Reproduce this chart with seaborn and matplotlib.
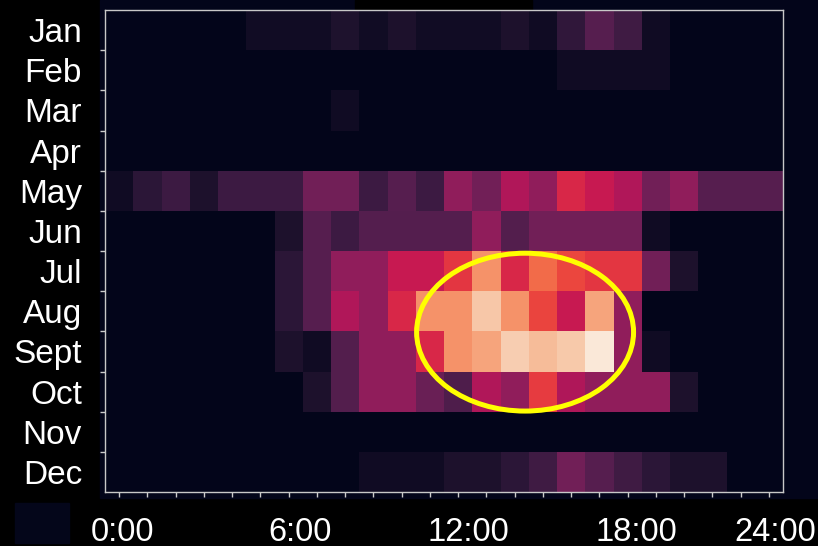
import numpy as np
import pandas as pd
import matplotlib
matplotlib.use("Agg")
import matplotlib.pyplot as plt
import seaborn as sns
from matplotlib.patches import Ellipse, Rectangle

# datos: actividad por mes (filas) y hora del dia (columnas), escala 0-100
months = ['Jan', 'Feb', 'Mar', 'Apr', 'May', 'Jun', 'Jul', 'Aug', 'Sept', 'Oct', 'Nov', 'Dec']
hours = list(range(24))
hour_labels = ['0:00', '6:00', '12:00', '18:00', '24:00']

jan = [0, 0, 0, 0, 0, 4.5, 4.5, 4.5, 8, 4.5, 7.5, 4.5, 4.5, 4.5, 7.5, 4, 12.5, 22.5, 16.5, 4, 0, 0, 0, 0]
feb = [0] * 16 + [4, 4, 4, 4] + [0] * 4
mar = [0] * 8 + [4] + [0] * 15
apr = [0] * 24
may = [4, 11.5, 16, 7.5, 16, 16, 16, 29, 29, 16, 22.5, 16, 36, 29, 43.5, 36, 54, 49, 43.5, 29, 36, 22.5, 22.5, 22.5]
jun = [0, 0, 0, 0, 0, 0, 7.5, 22.5, 16, 22, 22, 22, 22, 36, 21.5, 29, 29, 29, 29, 4, 0, 0, 0, 0]
jul = [0, 0, 0, 0, 0, 0, 11.5, 22.5, 36, 36, 49, 49, 58, 77.5, 54, 69, 61.5, 58, 58, 29, 7.5, 0, 0, 0]
aug = [0, 0, 0, 0, 0, 0, 11.5, 22.5, 43.5, 36, 54, 77.5, 77.5, 90.5, 77.5, 61, 49, 82, 36, 0, 0, 0, 0, 0]
sept = [0, 0, 0, 0, 0, 0, 7.5, 4, 21.5, 36, 36, 54, 77.5, 82, 92, 87.5, 91, 99, 36, 4, 0, 0, 0, 0]
octu = [0, 0, 0, 0, 0, 0, 0, 7.5, 21.5, 36, 36, 27, 20.5, 43.5, 36, 59, 43, 36, 36, 36, 7.5, 0, 0, 0]
nov = [0] * 24
dec = [0] * 9 + [4, 4, 4, 7.5, 7.5, 11.5, 16.5, 29, 22.5, 16.5, 11.5, 7.5, 7.5, 0, 0]

df = pd.DataFrame([jan, feb, mar, apr, may, jun, jul, aug, sept, octu, nov, dec],
                  index=months, columns=hours)

navy = '#03051a'
plt.rcParams['font.family'] = ['Liberation Sans', 'DejaVu Sans']

fig = plt.figure(figsize=(8.18, 5.46), dpi=100, facecolor='black')
W, H = 818, 546

# fondo azul oscuro detras del mapa
fig.patches.append(Rectangle((100 / W, 1 - 498 / H), 718 / W, 498 / H,
                             transform=fig.transFigure, color=navy, zorder=-2))
fig.patches.append(Rectangle((355 / W, 1 - 9 / H), 177 / W, 9 / H,
                             transform=fig.transFigure, color='black', zorder=-1))
fig.patches.append(Rectangle((15 / W, 1 - 543 / H), 54 / W, 40 / H,
                             transform=fig.transFigure, color='#04061a', zorder=-1))

ax = fig.add_axes([105 / W, 1 - 492 / H, 678 / W, 482 / H])
sns.heatmap(df, cmap='rocket', vmin=0, vmax=100, cbar=False, ax=ax)
ax.set_xlabel('')
ax.set_ylabel('')

ax.set_xticks(np.arange(24) + 0.5)
ax.set_xticklabels([])
ax.set_yticks(np.arange(1, 12))
ax.set_yticklabels([])
ax.set_yticks(np.arange(12) + 0.5, minor=True)
ax.set_yticklabels(months, minor=True)
ax.tick_params(which='major', length=3.5, width=1, color='#cccccc')
ax.tick_params(axis='y', which='minor', length=0, pad=16.5, labelsize=24, labelcolor='white')

for s in ax.spines.values():
    s.set_visible(True)
    s.set_color('#c8c8c8')
    s.set_linewidth(1)

# etiquetas de hora debajo del mapa
label_x = [122, 300, 468, 636, 775]
for x, lab in zip(label_x, hour_labels):
    fig.text(x / W, 1 - 541 / H, lab, ha='center', va='baseline', color='white', fontsize=23.5)

# elipse amarilla resaltando la zona de mayor actividad
ax.add_patch(Ellipse((14.87, 8.02), 7.68, 3.93, fill=False, ec='#ffff00', lw=3.6, zorder=5))

fig.savefig('out.png', dpi=100, facecolor=fig.get_facecolor())
